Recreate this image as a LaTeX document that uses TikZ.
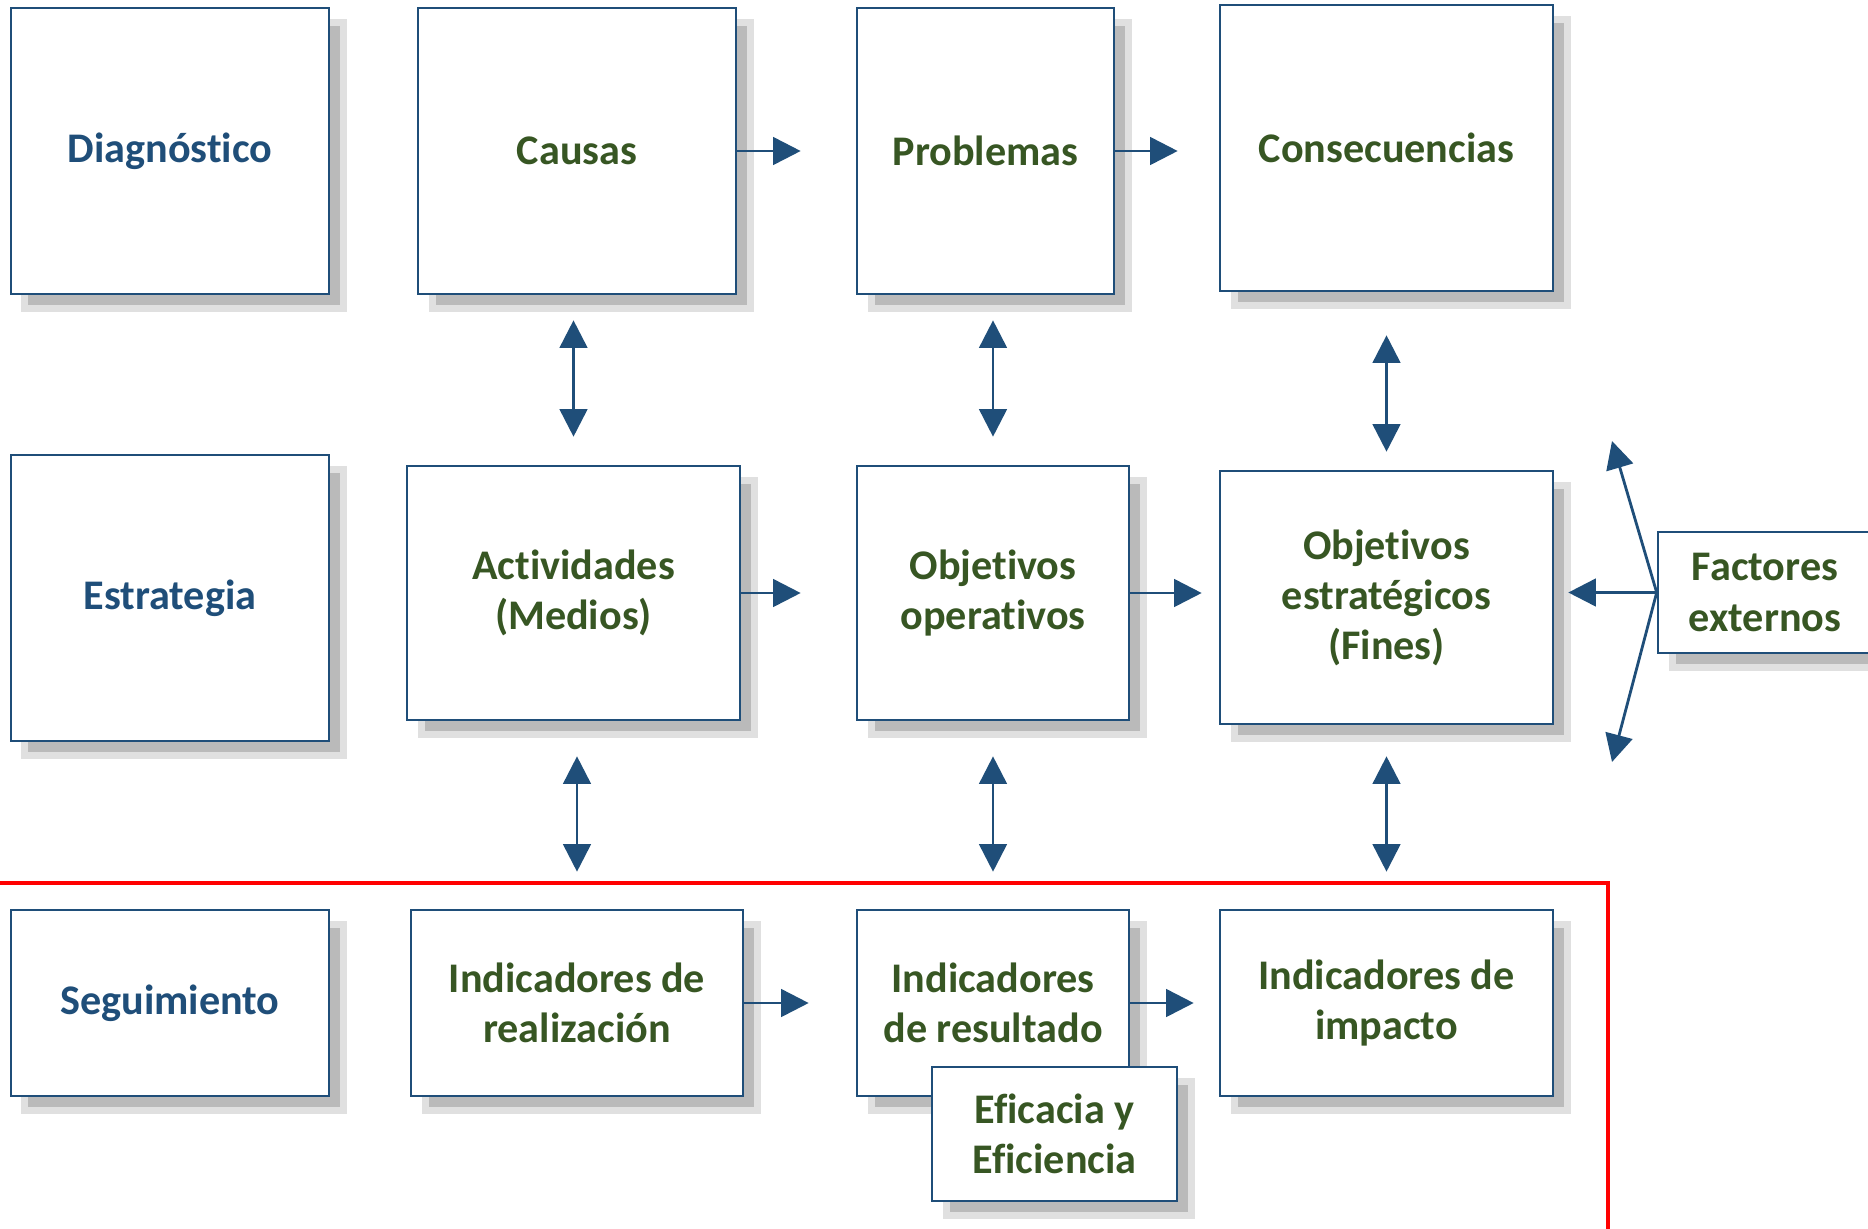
\documentclass[tikz,border=0pt]{standalone}
\usepackage{fontspec}
\setmainfont{Carlito}[Ligatures=NoCommon]
\usetikzlibrary{arrows.meta,shadows}

\definecolor{boxblue}{RGB}{31,78,121}
\definecolor{textgreen}{RGB}{55,86,35}

\begin{document}
\begin{tikzpicture}
	\tikzstyle{part}=[rectangle, draw=boxblue, line width=1.5pt, fill=white, align=center, inner sep=0pt, text=textgreen, font=\fontsize{24}{28.5}\selectfont\bfseries, drop shadow={shadow xshift=0.28cm, shadow yshift=-0.28cm, fill=black!27, draw=black!12, line width=0.14cm, opacity=1}]
	\tikzstyle{stage}=[part, text=boxblue]
	\tikzstyle{link}=[-{Triangle[length=0.55cm, width=0.55cm]}, color=boxblue, line width=1.6pt]
	\tikzstyle{twoway}=[{Triangle[length=0.55cm, width=0.55cm]}-{Triangle[length=0.55cm, width=0.55cm]}, color=boxblue, line width=1.6pt]

	\useasboundingbox (0,0) rectangle (37.36,-24.56);

	% left column
	\node[stage, minimum width=6.36cm, minimum height=5.72cm] (diag) at (3.40,-3.02) {Diagnóstico};
	\node[stage, minimum width=6.36cm, minimum height=5.72cm] (estrat) at (3.40,-11.96) {Estrategia};
	\node[stage, minimum width=6.36cm, minimum height=3.72cm] (seguim) at (3.40,-20.06) {Seguimiento};

	% top row
	\node[part, minimum width=6.36cm, minimum height=5.72cm] (causas) at (11.54,-3.02) {Causas};
	\node[part, minimum width=5.14cm, minimum height=5.72cm] (problemas) at (19.71,-3.02) {Problemas};
	\node[part, minimum width=6.66cm, minimum height=5.72cm] (consec) at (27.73,-2.96) {Consecuencias};

	% middle row
	\node[part, minimum width=6.66cm, minimum height=5.08cm] (activ) at (11.47,-11.86) {Actividades\\(Medios)};
	\node[part, minimum width=5.44cm, minimum height=5.08cm] (objop) at (19.86,-11.86) {Objetivos\\operativos};
	\node[part, minimum width=6.66cm, minimum height=5.06cm] (objest) at (27.73,-11.95) {Objetivos\\estratégicos\\(Fines)};
	\node[part, minimum width=4.28cm, minimum height=2.42cm] (factores) at (35.30,-11.85) {Factores\\externos};

	% bottom row
	\draw[red, line width=2pt] (0,-17.66) -- (32.16,-17.66) -- (32.16,-24.8);
	\node[part, minimum width=6.64cm, minimum height=3.72cm] (indreal) at (11.54,-20.06) {Indicadores de\\realización};
	\node[part, minimum width=5.44cm, minimum height=3.72cm] (indres) at (19.86,-20.06) {Indicadores\\de resultado};
	\node[part, minimum width=4.90cm, minimum height=2.68cm] (eficacia) at (21.09,-22.68) {Eficacia y\\Eficiencia};
	\node[part, minimum width=6.66cm, minimum height=3.72cm] (indimp) at (27.73,-20.06) {Indicadores de\\impacto};

	\coordinate (up) at (32.24,-8.82);
	\coordinate (down) at (32.24,-15.24);

	\path
		(causas.east) edge[link, shorten >=1.1cm] (causas.east -| problemas.west)
		(problemas.east) edge[link, shorten >=0.82cm] (problemas.east -| consec.west)
		(activ.east) edge[link, shorten >=1.1cm] (activ.east -| objop.west)
		(objop.east) edge[link, shorten >=0.34cm] (objop.east -| objest.west)
		(indreal.east) edge[link, shorten >=0.94cm] (indreal.east -| indres.west)
		(indres.east) edge[link, shorten >=0.5cm] (indres.east -| indimp.west)
		(factores.west) edge[link] (up)
		(factores.west) edge[link, shorten >=0.28cm] (factores.west -| objest.east)
		(factores.west) edge[link] (down);

	\path
		(activ.north |- causas.south) edge[twoway, shorten <=0.5cm, shorten >=0.56cm] (activ.north)
		(objop.north |- problemas.south) edge[twoway, shorten <=0.5cm, shorten >=0.56cm] (objop.north)
		(consec.south) edge[twoway, shorten <=0.86cm, shorten >=0.36cm] (objest.north)
		(indreal.north |- activ.south) edge[twoway, shorten <=0.7cm, shorten >=0.74cm] (indreal.north)
		(objop.south) edge[twoway, shorten <=0.7cm, shorten >=0.74cm] (indres.north)
		(objest.south) edge[twoway, shorten <=0.62cm, shorten >=0.74cm] (indimp.north);

\end{tikzpicture}
\end{document}
